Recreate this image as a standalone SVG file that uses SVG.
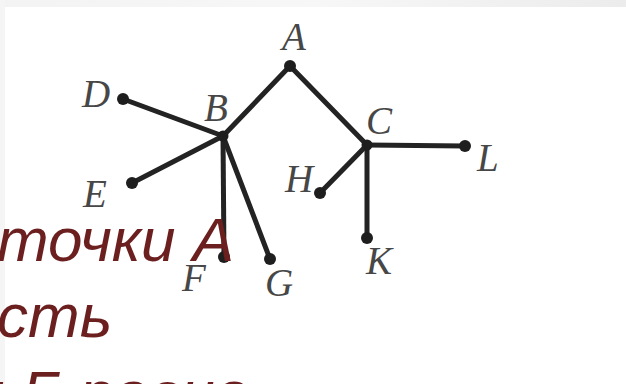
<svg xmlns="http://www.w3.org/2000/svg" width="626" height="384" viewBox="0 0 626 384">
<defs>
<linearGradient id="band" x1="0" y1="0" x2="1" y2="0">
<stop offset="0" stop-color="#f3f3f3"/>
<stop offset="0.5" stop-color="#f7f7f7"/>
<stop offset="1" stop-color="#ececec"/>
</linearGradient>
</defs>
<style>
.edge{stroke:#232323;stroke-width:5;stroke-linecap:round;fill:none}
.dot{fill:#1e1e1e}
.lbl{font-family:"Liberation Serif","Times New Roman",serif;font-style:italic;font-size:39px;fill:#474747}
.red{font-family:"Liberation Sans",Arial,sans-serif;font-style:italic;font-size:62px;fill:#6b1f1f}
</style>
<rect width="626" height="384" fill="#ffffff"/>
<rect x="0" y="0" width="626" height="7" fill="url(#band)"/>
<rect x="0" y="0" width="5" height="384" fill="#f5f5f5"/>
<g id="connectors">
<line class="edge" x1="290" y1="66" x2="223" y2="136"/>
<line class="edge" x1="290" y1="66" x2="367" y2="145"/>
<line class="edge" x1="223" y1="136" x2="123" y2="99"/>
<line class="edge" x1="223" y1="136" x2="132" y2="183"/>
<line class="edge" x1="223" y1="136" x2="224" y2="257"/>
<line class="edge" x1="223" y1="136" x2="270" y2="259"/>
<line class="edge" x1="367" y1="145" x2="465" y2="146"/>
<line class="edge" x1="367" y1="145" x2="320" y2="193"/>
<line class="edge" x1="367" y1="145" x2="367" y2="238"/>
</g>
<g id="A"><circle class="dot" cx="290" cy="66" r="6"/><text class="lbl" x="282" y="50">A</text></g>
<g id="B"><circle class="dot" cx="223" cy="136" r="5.5"/><text class="lbl" x="204" y="121">B</text></g>
<g id="C"><circle class="dot" cx="367" cy="145" r="5.5"/><text class="lbl" x="366" y="134">C</text></g>
<g id="D"><circle class="dot" cx="123" cy="99" r="6"/><text class="lbl" x="82" y="107">D</text></g>
<g id="E"><circle class="dot" cx="132" cy="183" r="6"/><text class="lbl" x="83" y="207">E</text></g>
<g id="F"><circle class="dot" cx="224" cy="257" r="6"/><text class="lbl" x="182" y="291">F</text></g>
<g id="G"><circle class="dot" cx="270" cy="259" r="6"/><text class="lbl" x="265" y="296">G</text></g>
<g id="H"><circle class="dot" cx="320" cy="193" r="6"/><text class="lbl" x="285" y="192">H</text></g>
<g id="K"><circle class="dot" cx="367" cy="238" r="6"/><text class="lbl" x="366" y="274">K</text></g>
<g id="L"><circle class="dot" cx="465" cy="146" r="6"/><text class="lbl" x="477" y="171">L</text></g>
<text class="red" x="-3" y="261">точки А</text>
<text class="red" x="-3" y="337">сть</text>
<text class="red" x="-30" y="414">и Б равно</text>
</svg>
